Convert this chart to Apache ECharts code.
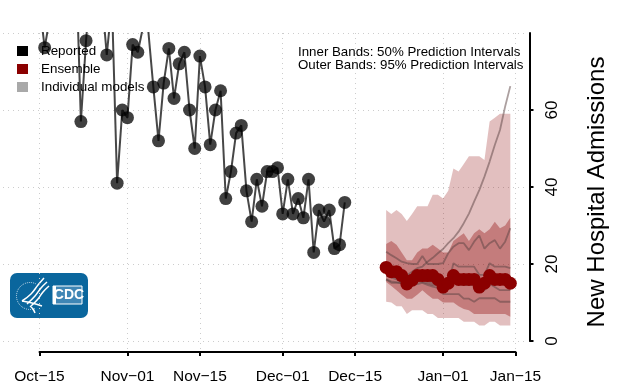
<!DOCTYPE html>
<html><head><meta charset="utf-8">
<style>html,body{margin:0;padding:0;background:#fff}#c{width:621px;height:387px}</style>
<script src="https://cdn.jsdelivr.net/npm/echarts@6/dist/echarts.min.js"></script></head>
<body><div id="c"></div>
<script>
// x values are days since Oct-15
const tickDays = [0,17,31,47,61,78,92];
const tickLabels = ['Oct\u221215','Nov\u221201','Nov\u221215','Dec\u221201','Dec\u221215','Jan\u221201','Jan\u221215'];
const yTicks = [0,20,40,60];
const gridYTicks = [0,20,40,60,80];
const reportedStart = 0;
const reported = [87.5,76.2,84,100,100,100,100,101,57,78,95,100,90,74.3,88,41,60,58,77,75,81.5,81,66,52,67,76,63,72,75,60,50,74,66,51,60,65,37,44,54,56,39,31,42,35,44,44,45,33,42,33,37,32,42,23,34,31,34,24,25,36];
const forecastStart = 67;
const ensemble = [19.1,18,18,17,14.8,15.8,17,17,17,17,16,14,15,17,16,16,16,16,14,15,17,16,16,16,15];
const upper95 = [34,33,34,33,31.2,33,35,35,35,38,38,37,39,44.8,44,46,48,48,48,47,57,58,59,59,59];
const lower95 = [10.2,10,9,9,7,8,8,8,7,7,6,6,6,6,6,5,5,5,4,4,5,5,4,4,4];
const upper50 = [25.2,26,25,23,21,21,23,24,24,25,24,23,23,26,27,28,26,28,29,28,29,31,29.3,30,32];
const lower50 = [15.3,14.3,13.2,12,11,11,12,13.2,12,11,11,10,10,10,9,8.3,8,7,7,7,7,7,7,7,6.3];
const modelA = [23.2,22.3,21.5,20.6,20.2,20,20,22.1,20,20,20,20.2,22.8,24.5,25.4,25.4,23.6,25.8,27.4,24,25.4,26.2,24,25.8,29.3];
const modelB = [17.5,17,16.5,16.5,17,18,18.9,19.3,20.6,21.6,22.8,23.9,25.4,26.7,28.4,30.6,33.1,36.2,39.2,42.7,46.6,50.9,54.8,60.9,66.2];
const modelC = [17,16.5,16,15.5,15,15,16,16,15.5,15,14.5,14.5,14.5,20.2,19.3,19.3,19.3,19.3,17.2,17.2,20.2,19.3,19.3,19.3,18.9];
const modelD = [16,15.1,15.1,15.1,14.8,14.6,14.8,15.1,14.6,14.1,13.8,12.2,12.2,12.2,12.2,11,11,10.2,11.1,11.1,11.1,11.1,10.2,10.2,10.2];
const modelE = [16,15.5,15.3,15,15,15,15.5,15.3,15,14.5,14.5,14,14,16.2,14.7,14.5,14.5,14.5,13.2,13.2,14.9,14,13.2,13.2,13.2];

const pts = (arr,start)=>arr.map((v,i)=>[start+i,v]);
const FONT='"Liberation Sans",Arial,sans-serif';
const modelSeries=(name,arr)=>({name,type:'line',xAxisIndex:1,yAxisIndex:1,data:pts(arr,forecastStart),symbol:'none',
  lineStyle:{color:'rgba(90,65,65,0.5)',width:1.8},z:4,silent:true,animation:false});
// a band is one polygon, built through the axis scale from its lower and upper arrays
const band=(lo,hi,color,z)=>({type:'custom',xAxisIndex:1,yAxisIndex:1,z,silent:true,animation:false,clip:true,
  data:lo.map((v,i)=>[forecastStart+i,v,hi[i]]),encode:{x:0,y:[1,2]},
  renderItem:(params,api)=>{
    if(params.dataIndex!==0) return null;
    const top=hi.map((v,i)=>api.coord([forecastStart+i,v]));
    const bot=lo.map((v,i)=>api.coord([forecastStart+i,v])).reverse();
    return {type:'polygon',shape:{points:top.concat(bot)},style:{fill:color}};
  }});
const wing=(points,w)=>({type:'polyline',shape:{points,smooth:0.4},style:{stroke:'#fff',fill:'none',lineWidth:w||1.5}});
const chart=echarts.init(document.getElementById('c'),null,{renderer:'canvas'});
chart.setOption({
  animation:false,
  backgroundColor:'#fff',
  textStyle:{fontFamily:FONT},
  grid:[
    {left:3,top:33,width:524,height:319,containLabel:false},
    {left:39.5,top:33,width:476,height:308,containLabel:false}
  ],
  xAxis:[
    {type:'value',gridIndex:0,min:-7.05,max:94.22,axisLine:{show:false},axisLabel:{show:false},
     axisTick:{show:false,customValues:tickDays},splitLine:{show:true,lineStyle:{color:'#cccccc',type:[1,4],width:1}}},
    {type:'value',gridIndex:1,min:0,max:92,position:'bottom',offset:11,
     axisLine:{show:true,onZero:false,lineStyle:{color:'#000',width:2}},
     axisTick:{show:true,customValues:tickDays,length:4,lineStyle:{color:'#000',width:2}},
     axisLabel:{customValues:tickDays,color:'#000',fontSize:15.5,margin:17,fontFamily:FONT,
       hideOverlap:false,showMinLabel:true,showMaxLabel:true,
       formatter:v=>tickLabels[tickDays.indexOf(Math.round(v))]||''},
     splitLine:{show:false}}
  ],
  yAxis:[
    {type:'value',gridIndex:0,min:-2.857,max:80,axisLine:{show:false},axisLabel:{show:false},
     axisTick:{show:false,customValues:gridYTicks},splitLine:{show:true,lineStyle:{color:'#cccccc',type:[1,4],width:1}}},
    {type:'value',gridIndex:1,min:0,max:80,position:'right',offset:14,
     axisLine:{show:true,onZero:false,lineStyle:{color:'#000',width:2}},
     axisTick:{show:true,customValues:yTicks,length:4,lineStyle:{color:'#000',width:2}},
     axisLabel:{customValues:yTicks,color:'#000',fontSize:17,rotate:90,margin:14,fontFamily:FONT,showMinLabel:true},
     splitLine:{show:false}}
  ],
  legend:{show:true,orient:'vertical',left:17,top:44.5,itemWidth:11,itemHeight:10,itemGap:5,padding:0,
    textStyle:{fontSize:13.4,color:'#000',fontFamily:FONT,padding:[0,0,0,8]},selectedMode:false,
    data:[
      {name:'Reported',icon:'rect',itemStyle:{color:'#000',opacity:1,borderWidth:0}},
      {name:'Ensemble',icon:'rect',itemStyle:{color:'#8b0000',opacity:1,borderWidth:0}},
      {name:'Individual models',icon:'rect',itemStyle:{color:'#a9a9a9',opacity:1,borderWidth:0}}
    ]},
  graphic:[
    {type:'group',left:10,top:273,z:100,silent:true,children:[
      {type:'rect',shape:{x:0,y:0,width:78,height:45,r:7},style:{fill:'#0a669d'}},
      {type:'arc',shape:{cx:20,cy:23,r:13.5,startAngle:1.2,endAngle:5.2},style:{stroke:'#cfe2ee',fill:'none',lineWidth:1,lineDash:[1,1]}},
      wing([[34,5],[28,12],[21,21],[12,28]]),
      wing([[37,9],[31,15],[25,23],[17,31]]),
      wing([[39,13],[33,19],[28,26],[21,33]]),
      wing([[12,28],[22,30],[32,33]]),
      wing([[20,33],[23,36],[25,40]]),
      {type:'rect',shape:{x:43,y:13,width:29,height:18},style:{fill:'#3f86b5',stroke:'#fff',lineWidth:1}},
      {type:'rect',shape:{x:43,y:13,width:3,height:18},style:{fill:'#fff'}},
      {type:'text',style:{x:59,y:22.5,text:'CDC',fill:'#fff',font:'bold 14px "Liberation Sans Narrow","Liberation Sans",sans-serif',align:'center',verticalAlign:'middle'}}
    ]},
    {type:'text',left:298,top:46,z:100,silent:true,style:{text:'Inner Bands: 50% Prediction Intervals',fill:'#000',font:'13.3px "Liberation Sans"'}},
    {type:'text',left:298,top:59,z:100,silent:true,style:{text:'Outer Bands: 95% Prediction Intervals',fill:'#000',font:'13.3px "Liberation Sans"'}},
    {type:'text',x:597,y:192,rotation:Math.PI/2,z:100,silent:true,style:{text:'New Hospital Admissions',fill:'#000',font:'24px "Liberation Sans"',align:'center',verticalAlign:'middle'}}
  ],
  series:[
    band(lower95,upper95,'rgba(139,0,0,0.25)',2),
    band(lower50,upper50,'rgba(139,0,0,0.35)',3),
    modelSeries('Individual models',modelA),
    modelSeries('m2',modelB),
    modelSeries('m3',modelC),
    modelSeries('m4',modelD),
    modelSeries('m5',modelE),
    {name:'Ensemble',type:'line',xAxisIndex:1,yAxisIndex:1,data:pts(ensemble,forecastStart),symbol:'circle',symbolSize:13,
     lineStyle:{color:'#8b0000',width:2},itemStyle:{color:'#8b0000',opacity:1},z:6,animation:false,silent:true},
    {name:'Reported',type:'line',xAxisIndex:1,yAxisIndex:1,data:pts(reported,reportedStart),symbol:'none',
     lineStyle:{color:'rgba(0,0,0,0.72)',width:2},z:5,animation:false,silent:true},
    {name:'Reported',type:'scatter',xAxisIndex:1,yAxisIndex:1,data:pts(reported,reportedStart),symbol:'circle',symbolSize:13,
     itemStyle:{color:'rgba(0,0,0,0.75)',opacity:1},z:5,animation:false,silent:true}
  ]
});
</script></body></html>
